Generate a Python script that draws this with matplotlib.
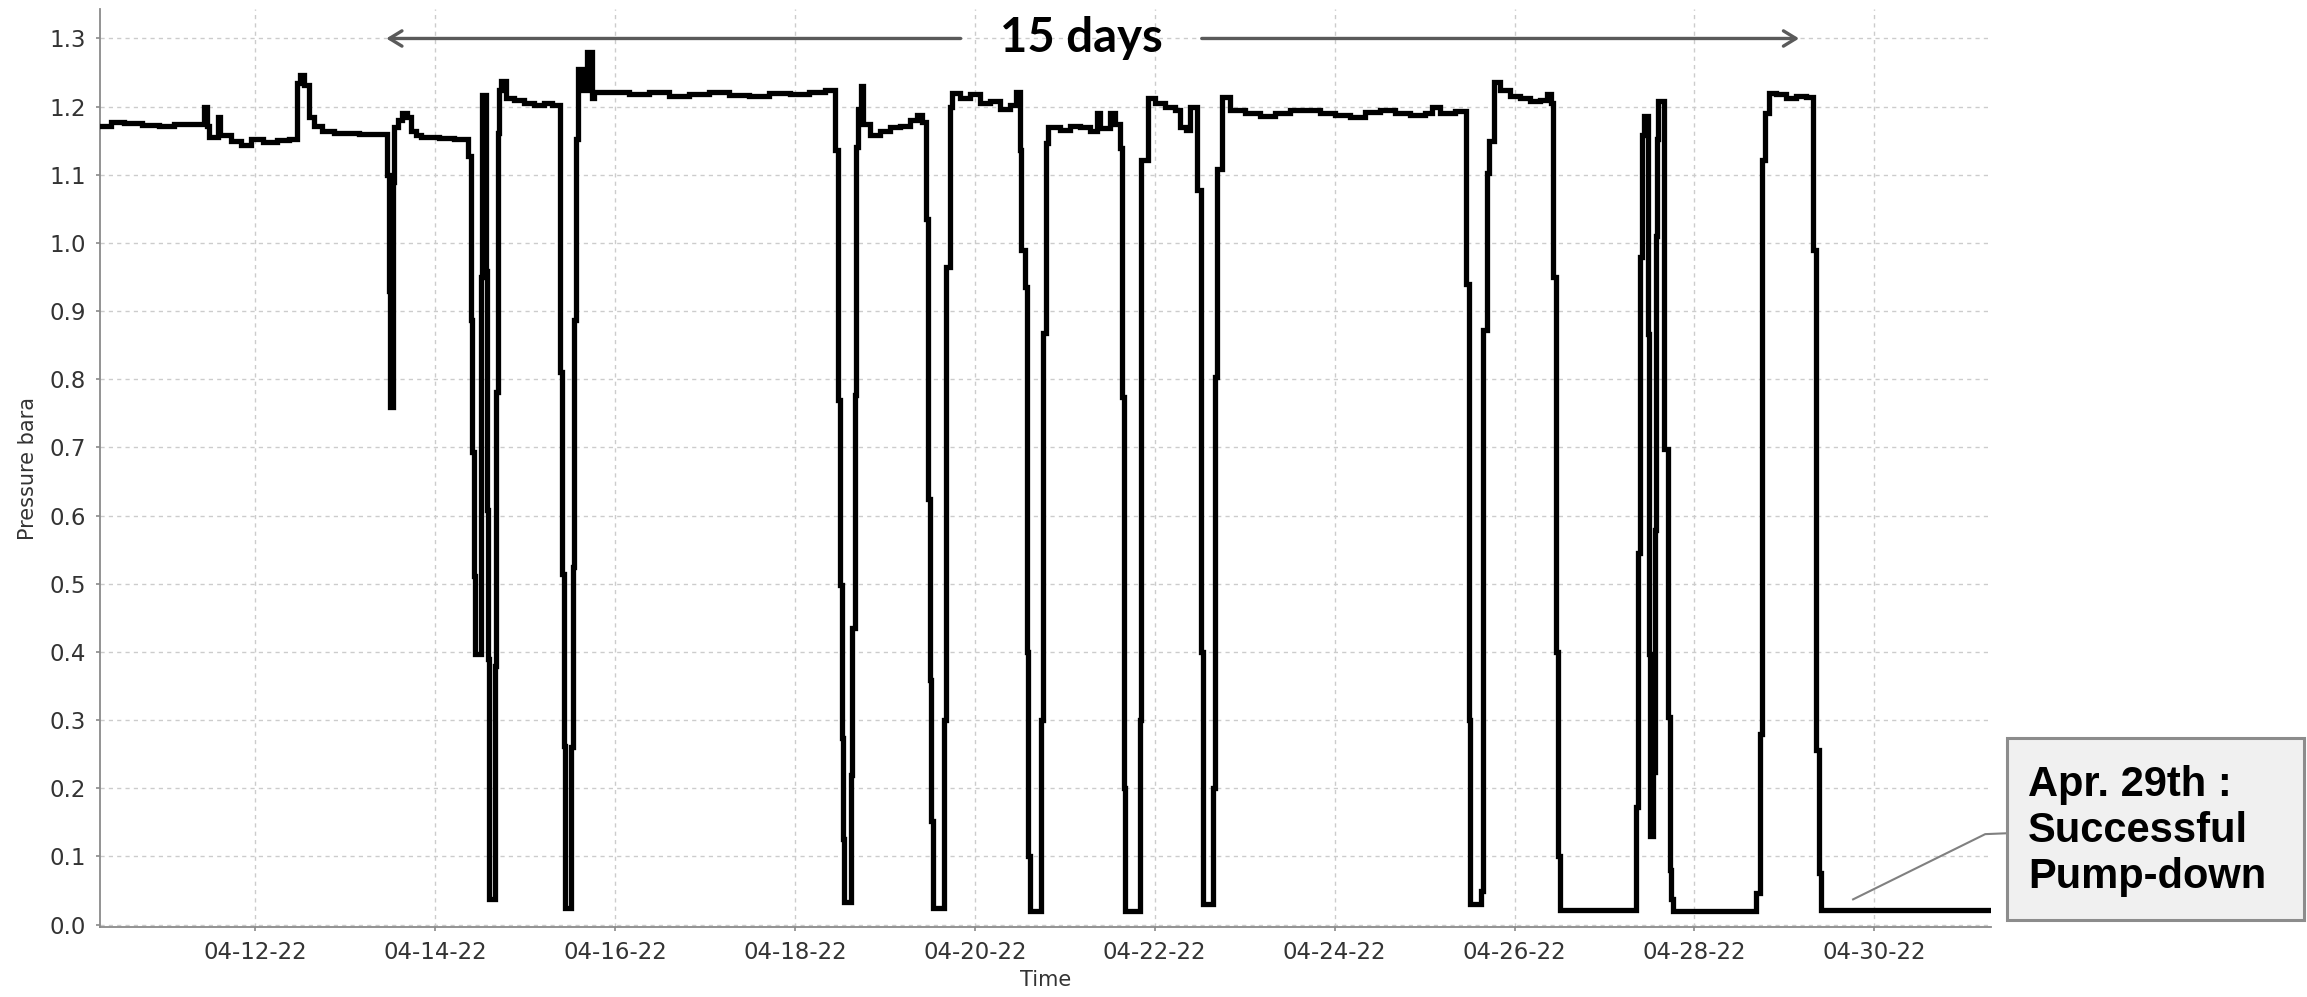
import matplotlib
matplotlib.use("Agg")
import matplotlib.pyplot as plt
import matplotlib.dates as mdates
from matplotlib.patches import Rectangle
from datetime import datetime, timedelta

# time as fractional day of April 2022, pressure in bara
april_day = [10.283, 10.398, 10.543, 10.743, 10.932, 11.099, 11.266, 11.433, 11.460, 11.484,
             11.588, 11.611, 11.733, 11.844, 11.955, 12.089, 12.245, 12.378, 12.467, 12.500,
             12.545, 12.601, 12.656, 12.745, 12.879, 13.157, 13.468, 13.485, 13.501, 13.529,
             13.546, 13.591, 13.635, 13.691, 13.735, 13.791, 13.847, 14.047, 14.214, 14.346,
             14.369, 14.403, 14.414, 14.431, 14.442, 14.509, 14.520, 14.564, 14.581, 14.592,
             14.603, 14.664, 14.681, 14.698, 14.714, 14.731, 14.787, 14.881, 14.993, 15.104,
             15.215, 15.304, 15.387, 15.409, 15.432, 15.448, 15.509, 15.532, 15.548, 15.571,
             15.593, 15.637, 15.693, 15.748, 15.771, 15.938, 16.160, 16.383, 16.605, 16.828,
             17.050, 17.272, 17.495, 17.717, 17.940, 18.162, 18.340, 18.451, 18.477, 18.503,
             18.521, 18.532, 18.546, 18.624, 18.635, 18.663, 18.682, 18.699, 18.737, 18.752,
             18.830, 18.941, 19.052, 19.164, 19.274, 19.352, 19.408, 19.460, 19.478, 19.497,
             19.516, 19.534, 19.652, 19.683, 19.720, 19.742, 19.831, 19.942, 20.054, 20.164,
             20.276, 20.387, 20.454, 20.499, 20.517, 20.554, 20.576, 20.593, 20.610, 20.741,
             20.758, 20.796, 20.816, 20.946, 21.056, 21.168, 21.279, 21.354, 21.391, 21.502,
             21.558, 21.616, 21.633, 21.655, 21.672, 21.833, 21.852, 21.922, 22.000, 22.111,
             22.222, 22.277, 22.344, 22.389, 22.467, 22.511, 22.533, 22.645, 22.668, 22.693,
             22.745, 22.835, 23.001, 23.168, 23.335, 23.502, 23.669, 23.835, 24.002, 24.169,
             24.336, 24.502, 24.669, 24.836, 25.003, 25.080, 25.169, 25.336, 25.464, 25.492,
             25.509, 25.626, 25.648, 25.689, 25.715, 25.771, 25.838, 25.949, 26.060, 26.171,
             26.282, 26.360, 26.405, 26.427, 26.461, 26.483, 26.505, 27.356, 27.375, 27.394,
             27.413, 27.436, 27.489, 27.500, 27.511, 27.544, 27.566, 27.577, 27.588, 27.599,
             27.661, 27.711, 27.727, 27.744, 27.761, 28.690, 28.724, 28.746, 28.780, 28.831,
             28.902, 29.014, 29.125, 29.236, 29.320, 29.348, 29.380, 29.402, 31.283]
pressure = [1.172, 1.178, 1.176, 1.173, 1.171, 1.174, 1.175, 1.199, 1.172, 1.155,
            1.185, 1.158, 1.150, 1.143, 1.152, 1.148, 1.151, 1.153, 1.235, 1.247,
            1.232, 1.185, 1.172, 1.165, 1.162, 1.160, 1.100, 0.930, 0.760, 1.090,
            1.170, 1.180, 1.190, 1.185, 1.165, 1.158, 1.155, 1.154, 1.153, 1.153,
            1.128, 0.887, 0.693, 0.511, 0.397, 0.950, 1.217, 0.959, 0.608, 0.389,
            0.038, 0.380, 0.782, 1.162, 1.225, 1.238, 1.213, 1.210, 1.206, 1.203,
            1.205, 1.203, 0.810, 0.515, 0.262, 0.025, 0.260, 0.524, 0.887, 1.153,
            1.255, 1.225, 1.280, 1.212, 1.222, 1.222, 1.218, 1.221, 1.216, 1.219,
            1.222, 1.217, 1.215, 1.220, 1.218, 1.222, 1.225, 1.137, 0.769, 0.498,
            0.274, 0.126, 0.033, 0.220, 0.435, 0.777, 1.141, 1.196, 1.230, 1.175,
            1.158, 1.165, 1.170, 1.172, 1.180, 1.188, 1.178, 1.035, 0.625, 0.359,
            0.152, 0.025, 0.300, 0.965, 1.200, 1.220, 1.212, 1.218, 1.205, 1.208,
            1.196, 1.203, 1.222, 1.136, 0.990, 0.936, 0.400, 0.100, 0.020, 0.300,
            0.868, 1.146, 1.170, 1.166, 1.172, 1.170, 1.165, 1.190, 1.168, 1.190,
            1.175, 1.140, 0.774, 0.200, 0.020, 0.300, 1.121, 1.212, 1.205, 1.200,
            1.195, 1.170, 1.166, 1.200, 1.077, 0.400, 0.030, 0.200, 0.803, 1.108,
            1.214, 1.195, 1.190, 1.187, 1.190, 1.195, 1.195, 1.190, 1.188, 1.185,
            1.192, 1.195, 1.190, 1.188, 1.190, 1.200, 1.190, 1.193, 0.940, 0.300,
            0.030, 0.050, 0.872, 1.103, 1.150, 1.236, 1.225, 1.215, 1.212, 1.208,
            1.210, 1.218, 1.205, 0.950, 0.400, 0.100, 0.022, 0.173, 0.545, 0.980,
            1.158, 1.187, 0.866, 0.397, 0.130, 0.224, 0.579, 1.010, 1.153, 1.208,
            0.697, 0.304, 0.080, 0.038, 0.020, 0.046, 0.280, 1.121, 1.190, 1.220,
            1.218, 1.212, 1.215, 1.214, 0.990, 0.256, 0.075, 0.022, 0.022]

tick_days = [12, 14, 16, 18, 20, 22, 24, 26, 28, 30]
y_ticks = [0.0, 0.1, 0.2, 0.3, 0.4, 0.5, 0.6, 0.7, 0.8, 0.9, 1.0, 1.1, 1.2, 1.3]

# "15 days" span arrow (april day) and annotation
span_start, span_end = 13.457, 29.164
span_gap = (19.842, 22.523)
span_y = 1.30
note_text = "Apr. 29th :\nSuccessful\nPump-down"
note_day, note_p = 29.764, 0.037


def to_date(d):
    return datetime(2022, 4, 1) + timedelta(days=d - 1)


times = [to_date(d) for d in april_day]

fig = plt.figure(figsize=(23.07, 9.97), dpi=100)
ax = fig.add_axes([0.0434, 0.0699, 0.8197, 0.9209])

ax.plot(times, pressure, color="black", lw=3.8, drawstyle="steps-post",
        solid_joinstyle="miter", zorder=3)

ax.set_xlim(to_date(10.276), to_date(31.299))
ax.set_ylim(-0.004, 1.343)
ax.set_xticks([to_date(d) for d in tick_days])
ax.xaxis.set_major_formatter(mdates.DateFormatter("%m-%d-%y"))
ax.set_yticks(y_ticks)
ax.yaxis.set_major_formatter(plt.FormatStrFormatter("%.1f"))

ax.grid(True, color="#cccccc", lw=1.0, linestyle=(0, (3, 3)))
for s in ["top", "right"]:
    ax.spines[s].set_visible(False)
for s in ["left", "bottom"]:
    ax.spines[s].set_color("#8a8a8a")
    ax.spines[s].set_linewidth(1.3)
ax.tick_params(colors="#8a8a8a", labelcolor="#333333", labelsize=16.5,
               length=3, width=1.2, pad=7)

ax.set_xlabel("Time", fontsize=15, color="#333333", labelpad=4)
ax.set_ylabel("Pressure bara", fontsize=15, color="#333333", labelpad=8)

# span arrow over the test period
arrow_kw = dict(arrowstyle="->,head_length=0.9,head_width=0.55", color="#5a5a5a",
                lw=2.4, shrinkA=0, shrinkB=0)
ax.annotate("", xy=(to_date(span_start), span_y), xytext=(to_date(span_gap[0]), span_y),
            arrowprops=arrow_kw, annotation_clip=False)
ax.annotate("", xy=(to_date(span_end), span_y), xytext=(to_date(span_gap[1]), span_y),
            arrowprops=arrow_kw, annotation_clip=False)
ax.text(to_date((span_gap[0] + span_gap[1]) / 2), span_y, "15 days",
        family="Lato", weight="bold", fontsize=34, ha="center", va="center",
        color="black", zorder=5)

# callout box
ax.plot([to_date(note_day), to_date(31.233), to_date(31.477)],
        [note_p, 0.1327, 0.134], color="#808080", lw=1.5, clip_on=False)
fig.patches.append(Rectangle((0.8700, 0.0772), 0.1287, 0.1828, transform=fig.transFigure,
                             facecolor="#f0f0f0", edgecolor="#8c8c8c", lw=2.2))
fig.text(0.879, 0.2330, note_text, family="Liberation Sans", weight="bold",
         fontsize=30, ha="left", va="top", linespacing=1.2, color="black")

fig.savefig("out.png", dpi=100, facecolor="white")
